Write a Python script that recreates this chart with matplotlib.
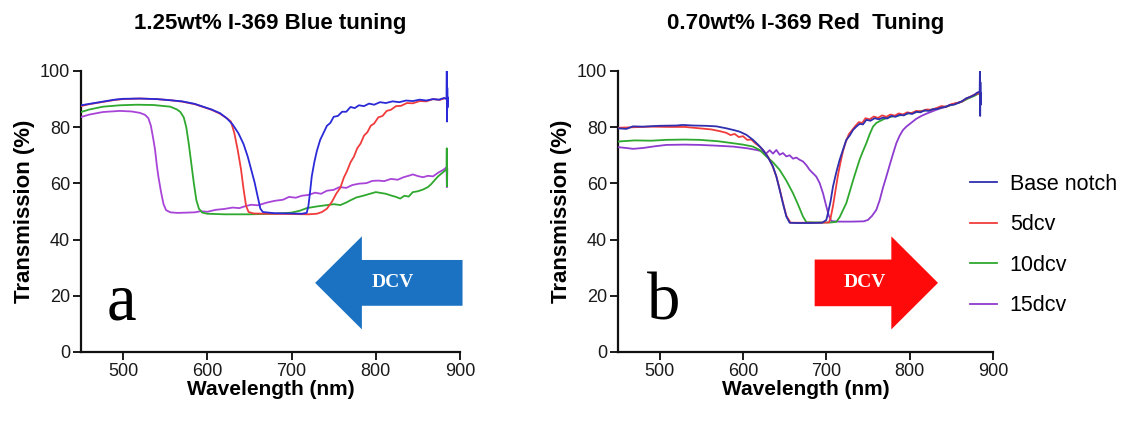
import matplotlib
matplotlib.use("Agg")
import matplotlib.pyplot as plt
from matplotlib.patches import FancyArrow

plt.rcParams['font.family'] = ['Liberation Sans', 'DejaVu Sans']

# ---------------- data: panel a (1.25wt% I-369 Blue tuning) ----------------
a_base_wl = [450, 460, 470, 480, 490, 500, 520, 540, 556, 570, 585, 595, 605, 615, 623, 630, 637, 643,
             648, 652, 656, 660, 663, 666, 680, 700, 712, 718, 720, 722, 724, 727, 730, 734, 738, 742,
             746, 750, 755, 760, 765, 770, 775, 780, 786, 792, 798, 805, 812, 820, 828, 836, 844, 852,
             860, 868, 875, 881, 884, 884.3, 884.6, 884.9, 885.2, 885.5]
a_base_val = [87.8, 88.3, 88.8, 89.3, 89.8, 90.1, 90.2, 90.0, 89.6, 89.2, 88.3, 87.3, 86.3, 85.0, 83.2,
              81.0, 77.8, 74.0, 69.5, 65.0, 60.5, 55.0, 51.0, 49.8, 49.4, 49.3, 49.2, 49.5, 52.0, 57.0,
              62.5, 67.5, 71.5, 75.5, 78.0, 80.5, 81.5, 83.7, 84.0, 85.5, 85.5, 87.2, 86.8, 87.8, 87.5,
              88.4, 88.0, 88.9, 88.6, 89.2, 88.9, 89.5, 89.3, 89.8, 89.5, 90.0, 89.8, 90.4, 90.0, 100.0,
              82.0, 94.0, 87.0, 90.5]

a_5_wl = [450, 460, 470, 480, 490, 500, 520, 540, 556, 570, 585, 595, 605, 615, 624, 628, 632, 636, 640,
          643, 646, 649, 655, 670, 700, 720, 730, 736, 742, 748, 753, 758, 762, 766, 770, 774, 778, 782,
          786, 790, 794, 798, 803, 808, 813, 818, 824, 830, 837, 844, 852, 860, 868, 876, 882]
a_5_val = [87.5, 88.2, 88.7, 89.2, 89.7, 90.0, 90.2, 90.0, 89.6, 89.1, 88.2, 87.2, 86.2, 84.8, 83.0, 82.0,
           78.0, 72.0, 65.0, 58.0, 52.0, 49.8, 49.3, 49.2, 49.1, 49.0, 49.2, 49.8, 51.0, 53.5, 56.3, 58.5,
           62.0, 64.5, 67.5, 69.5, 72.5, 74.2, 77.0, 78.2, 80.5, 81.3, 83.5, 84.0, 85.8, 86.2, 87.5, 87.6,
           88.6, 88.5, 89.3, 89.2, 90.0, 89.7, 90.3]

a_10_wl = [450, 460, 476, 496, 516, 536, 556, 564, 568, 572, 575, 578, 581, 584, 587, 590, 594, 600, 620,
           650, 680, 700, 710, 718, 730, 740, 750, 758, 765, 770, 777, 785, 793, 800, 806, 812, 818, 824,
           829, 834, 839, 844, 850, 856, 862, 866, 870, 874, 878, 882, 884, 884.3, 884.6, 884.9]
a_10_val = [85.4, 86.3, 87.3, 87.8, 88.0, 87.9, 87.3, 86.3, 85.4, 83.5, 80.0, 74.0, 67.0, 60.0, 54.0, 51.0,
            49.6, 49.2, 49.0, 49.0, 49.2, 49.6, 50.3, 51.2, 51.8, 52.2, 52.6, 52.3, 53.2, 54.0, 55.0, 55.6,
            56.3, 56.9, 56.6, 56.3, 55.7, 55.2, 54.6, 55.6, 55.3, 56.9, 57.2, 57.8, 58.7, 59.8, 61.2, 62.5,
            63.5, 64.5, 65.0, 72.5, 59.0, 65.0]

a_15_wl = [450, 460, 476, 496, 510, 520, 526, 530, 533, 536, 538, 540, 542, 545, 548, 551, 556, 565, 575,
           585, 592, 600, 610, 620, 630, 638, 645, 652, 660, 671, 680, 690, 697, 705, 712, 720, 728, 735,
           742, 750, 757, 765, 772, 780, 789, 796, 803, 810, 818, 826, 833, 840, 844, 850, 856, 862, 868,
           874, 880, 884, 884.4]
a_15_val = [83.6, 84.5, 85.4, 85.8, 85.6, 85.1, 84.4, 83.2, 80.5, 75.5, 71.8, 66.5, 62.2, 57.0, 52.6, 50.5,
            49.7, 49.5, 49.6, 49.7, 50.1, 49.9, 50.6, 50.9, 51.4, 51.2, 51.9, 52.4, 52.2, 53.2, 53.8, 54.2,
            55.2, 54.9, 55.6, 55.9, 56.7, 56.3, 57.4, 57.7, 58.7, 58.4, 59.4, 59.9, 60.1, 60.9, 61.0, 60.8,
            61.6, 61.3, 62.2, 62.8, 63.2, 62.6, 62.2, 62.7, 62.5, 63.8, 64.8, 65.7, 58.7]

# ---------------- data: panel b (0.70wt% I-369 Red Tuning) ----------------
b_base_wl = [450, 460, 468, 480, 500, 520, 528, 540, 555, 568, 580, 590, 596, 604, 612, 618, 624, 630,
             636, 640, 644, 648, 652, 656, 665, 680, 695, 700, 702, 705, 708, 712, 716, 720, 724, 728,
             732, 736, 740, 744, 748, 753, 758, 763, 768, 773, 778, 783, 788, 793, 798, 803, 808, 813,
             818, 823, 828, 833, 838, 843, 848, 853, 858, 863, 868, 873, 878, 881, 884, 884.3, 884.6,
             884.9, 885.2, 885.5]
b_base_val = [79.6, 79.4, 80.3, 80.2, 80.5, 80.6, 80.8, 80.6, 80.5, 80.3, 79.6, 78.9, 78.4, 77.3, 75.5,
              73.8, 71.9, 69.3, 66.0, 62.5, 57.7, 52.8, 48.2, 46.0, 45.9, 45.9, 46.0, 47.0, 49.5, 53.5,
              58.9, 64.0, 68.4, 72.0, 75.5, 77.0, 79.0, 80.2, 81.2, 81.0, 82.6, 82.3, 83.2, 82.8, 83.4,
              83.1, 84.0, 83.7, 84.4, 84.2, 85.0, 84.7, 85.5, 85.3, 86.0, 85.8, 86.4, 86.5, 87.0, 87.2,
              87.9, 88.0, 88.6, 89.3, 90.3, 90.8, 91.5, 92.3, 92.5, 100.0, 84.0, 96.0, 88.0, 92.0]

b_5_wl = [450, 470, 490, 510, 530, 548, 562, 572, 580, 585, 590, 595, 600, 605, 610, 615, 620, 625, 630,
          635, 640, 644, 648, 652, 657, 670, 690, 703, 705, 708, 711, 714, 717, 720, 723, 727, 731, 735,
          739, 743, 747, 752, 757, 762, 767, 772, 777, 782, 787, 792, 797, 802, 808, 814, 820, 826, 832,
          838, 844, 850, 856, 862, 868, 874, 880, 883]
b_5_val = [79.8, 80.0, 80.2, 80.1, 80.1, 79.6, 79.2, 78.6, 78.0, 77.2, 77.6, 76.5, 76.8, 75.5, 75.6, 74.2,
           73.1, 71.5, 69.5, 66.5, 62.5, 58.0, 53.0, 48.5, 46.0, 46.0, 46.0, 46.1, 47.5, 52.0, 57.5, 63.0,
           67.5, 71.5, 74.5, 77.5, 79.0, 80.5, 81.8, 81.5, 83.2, 82.8, 83.8, 83.3, 84.2, 83.7, 84.5, 84.1,
           84.9, 84.5, 85.3, 85.0, 85.8, 85.6, 86.3, 86.2, 86.8, 87.5, 87.3, 88.2, 88.6, 89.0, 90.2, 91.0,
           91.8, 92.0]

b_10_wl = [450, 470, 490, 508, 530, 548, 570, 588, 600, 612, 620, 628, 636, 644, 652, 660, 666, 672, 676,
           690, 705, 712, 716, 720, 724, 728, 732, 736, 740, 744, 748, 752, 756, 760, 765, 770, 776, 782,
           790, 798, 806, 814, 822, 830, 838, 846, 854, 862, 870, 878, 883]
b_10_val = [74.9, 75.3, 75.2, 75.5, 75.6, 75.5, 75.0, 74.3, 73.8, 73.1, 71.9, 69.6, 67.5, 64.8, 61.0, 56.5,
            52.5, 48.2, 46.2, 46.1, 46.1, 46.3, 48.0, 50.5, 53.0, 57.0, 61.0, 64.8, 68.5, 71.5, 74.3, 77.5,
            80.2, 81.5, 82.3, 83.0, 83.6, 84.0, 84.3, 84.9, 85.2, 85.8, 86.0, 86.5, 87.0, 87.5, 88.3, 89.0,
            90.2, 91.2, 92.0]

b_15_wl = [450, 460, 468, 480, 494, 508, 530, 548, 570, 588, 605, 616, 622, 628, 632, 636, 640, 644, 648,
           652, 656, 660, 664, 668, 672, 676, 680, 684, 688, 692, 696, 700, 703, 706, 715, 730, 745, 750,
           755, 760, 764, 768, 772, 776, 780, 784, 788, 792, 796, 802, 808, 814, 820, 826, 832, 838, 844,
           850, 856, 862, 868, 874, 880, 883]
b_15_val = [72.9, 72.6, 72.3, 72.6, 73.2, 73.7, 73.8, 73.7, 73.4, 73.1, 72.5, 71.9, 71.5, 70.7, 71.8, 70.6,
            71.9, 70.2, 70.8, 69.6, 70.0, 68.8, 69.2, 68.4, 67.8, 66.5, 64.8, 63.6, 62.4, 60.1, 56.5, 51.8,
            48.5, 46.6, 46.4, 46.4, 46.5, 47.0, 48.5, 50.6, 54.0, 58.5, 62.4, 66.5, 70.5, 74.3, 77.0, 79.0,
            80.2, 81.6, 83.0, 84.0, 84.8, 85.5, 86.2, 86.8, 87.3, 88.0, 88.5, 89.0, 90.0, 91.0, 92.0, 92.5]

series_labels = ["Base notch", "5dcv", "10dcv", "15dcv"]
colors_a = ["#2a2ad8", "#f03c3c", "#2ea82e", "#a845d8"]
colors_b = ["#2f2fb0", "#f03c3c", "#2ea82e", "#8e3ccf"]

titles = ["1.25wt% I-369 Blue tuning", "0.70wt% I-369 Red  Tuning"]
x_ticks = [500, 600, 700, 800, 900]
y_ticks = [0, 20, 40, 60, 80, 100]

fig = plt.figure(figsize=(11.26, 4.22), dpi=100)
ax_a = fig.add_axes([81 / 1126, 70 / 422, 379 / 1126, 281 / 422])
ax_b = fig.add_axes([618 / 1126, 70 / 422, 375 / 1126, 281 / 422])

panel_data = [
    (ax_a, [(a_base_wl, a_base_val), (a_5_wl, a_5_val), (a_10_wl, a_10_val), (a_15_wl, a_15_val)], colors_a),
    (ax_b, [(b_base_wl, b_base_val), (b_5_wl, b_5_val), (b_10_wl, b_10_val), (b_15_wl, b_15_val)], colors_b),
]

handles = []
for ax, series, cols in panel_data:
    lines = []
    # draw in reverse so the base notch ends on top
    for i in reversed(range(4)):
        wl, val = series[i]
        ln, = ax.plot(wl, val, color=cols[i], lw=1.3, label=series_labels[i], zorder=3 + (3 - i) * 0.1)
        lines.append(ln)
    ax.set_xlim(450, 900)
    ax.set_ylim(0, 100)
    ax.set_xticks(x_ticks)
    ax.set_yticks(y_ticks)
    for s in ["top", "right"]:
        ax.spines[s].set_visible(False)
    for s in ["left", "bottom"]:
        ax.spines[s].set_linewidth(1.6)
        ax.spines[s].set_color("#111111")
    ax.tick_params(direction="out", length=6, width=1.4, colors="#1a1a1a", labelsize=13, pad=2)
    ax.set_xlabel("Wavelength (nm)", fontsize=15, fontweight="bold", labelpad=0)
    ax.set_ylabel("Transmission (%)", fontsize=16, fontweight="bold", labelpad=3)
    handles = lines[::-1]

ax_a.set_title(titles[0], fontsize=16, fontweight="bold", pad=30)
ax_b.set_title(titles[1], fontsize=16, fontweight="bold", pad=30)

# DCV arrows
ax_a.add_patch(FancyArrow(903, 24.6, -175, 0, width=16.3, head_width=33.1, head_length=55.5,
                          length_includes_head=True, color="#1b72c2", lw=0, clip_on=False, zorder=2))
ax_a.text(820, 24.8, "DCV", color="white", fontsize=14, fontweight="bold", family="Liberation Serif",
          ha="center", va="center", zorder=4)
ax_b.add_patch(FancyArrow(686, 24.6, 148, 0, width=16.6, head_width=33.1, head_length=56,
                          length_includes_head=True, color="#ff0a0a", lw=0, clip_on=False, zorder=2))
ax_b.text(746, 24.8, "DCV", color="white", fontsize=14, fontweight="bold", family="Liberation Serif",
          ha="center", va="center", zorder=4)

# panel letters
ax_a.text(480, 11.5, "a", fontsize=48, family="Liberation Serif", ha="left", va="baseline")
ax_b.text(485, 11.5, "b", fontsize=48, family="Liberation Serif", ha="left", va="baseline")

ax_b.legend(handles, series_labels, loc="upper left", bbox_to_anchor=(970 / 1126, 1 - 174 / 422),
            bbox_transform=fig.transFigure, frameon=False, fontsize=15.5, handlelength=1.25,
            handletextpad=0.6, labelspacing=0.9, borderpad=0, borderaxespad=0)

fig.savefig("out.png", dpi=100)
